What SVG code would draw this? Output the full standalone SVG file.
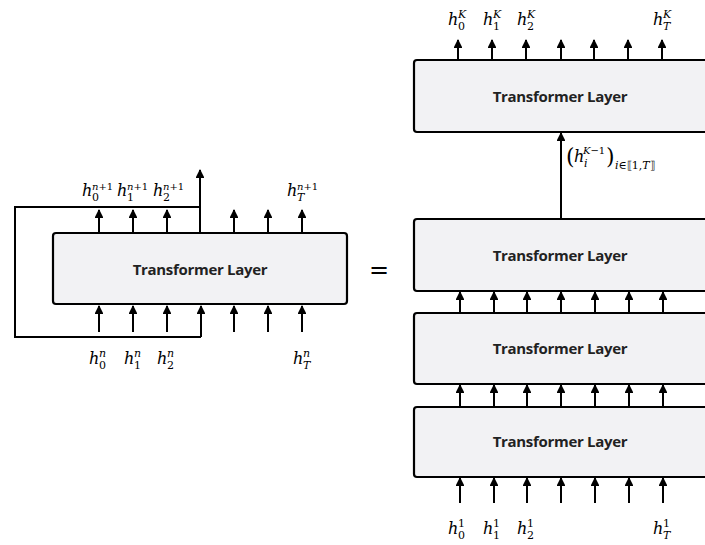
<svg xmlns="http://www.w3.org/2000/svg" width="705" height="545" viewBox="0 0 705 545">
<style>
.box{fill:#f2f2f4;stroke:#000;stroke-width:2.2}
.lbl{font-family:"Open Sans",sans-serif;font-weight:bold;font-size:15px;letter-spacing:-0.3px;text-anchor:middle;fill:#222}
.ln{stroke:#000;stroke-width:2;fill:none}
.m{font-family:"DejaVu Serif",serif;font-style:italic;font-size:16px;fill:#000}
.s{font-family:"DejaVu Serif",serif;font-size:11px;fill:#000}
.si{font-family:"DejaVu Serif",serif;font-style:italic;font-size:11px;fill:#000}
.sp{font-family:"DejaVu Serif",serif;font-style:italic;font-size:10px;fill:#000}
.eq{font-family:"DejaVu Sans",sans-serif;font-size:24px;text-anchor:middle;fill:#000}
</style>
<defs>
<marker id="ah" viewBox="0 0 10 10" refX="9" refY="5" markerWidth="4.4" markerHeight="4.4" orient="auto" markerUnits="strokeWidth">
<path d="M0,0 L10,5 L0,10 z" fill="#000"/>
</marker>
</defs>
<g id="left-layer">
<rect class="box" x="53" y="233" width="294" height="71" rx="3"/>
<text class="lbl" x="200" y="275">Transformer Layer</text>
</g>
<g id="right-layer-K">
<rect class="box" x="414" y="60" width="300" height="72" rx="3"/>
<text class="lbl" x="560" y="102">Transformer Layer</text>
</g>
<g id="right-layer-3">
<rect class="box" x="414" y="219" width="300" height="72" rx="3"/>
<text class="lbl" x="560" y="261">Transformer Layer</text>
</g>
<g id="right-layer-2">
<rect class="box" x="414" y="313" width="300" height="71" rx="3"/>
<text class="lbl" x="560" y="354">Transformer Layer</text>
</g>
<g id="right-layer-1">
<rect class="box" x="414" y="407" width="300" height="70" rx="3"/>
<text class="lbl" x="560" y="447">Transformer Layer</text>
</g>
<g id="connectors">
<path class="ln" marker-end="url(#ah)" d="M99,233V210"/>
<path class="ln" marker-end="url(#ah)" d="M133,233V210"/>
<path class="ln" marker-end="url(#ah)" d="M167,233V210"/>
<path class="ln" marker-end="url(#ah)" d="M200,233V170"/>
<path class="ln" marker-end="url(#ah)" d="M234,233V210"/>
<path class="ln" marker-end="url(#ah)" d="M268,233V210"/>
<path class="ln" marker-end="url(#ah)" d="M302,233V210"/>
<path class="ln" d="M200,207H15V337H201"/>
<path class="ln" marker-end="url(#ah)" d="M201,337V306"/>
<path class="ln" marker-end="url(#ah)" d="M99,332V306"/>
<path class="ln" marker-end="url(#ah)" d="M133,332V306"/>
<path class="ln" marker-end="url(#ah)" d="M167,332V306"/>
<path class="ln" marker-end="url(#ah)" d="M234,332V306"/>
<path class="ln" marker-end="url(#ah)" d="M268,332V306"/>
<path class="ln" marker-end="url(#ah)" d="M302,332V306"/>
<path class="ln" marker-end="url(#ah)" d="M458,60V40"/>
<path class="ln" marker-end="url(#ah)" d="M492,60V40"/>
<path class="ln" marker-end="url(#ah)" d="M526,60V40"/>
<path class="ln" marker-end="url(#ah)" d="M561,60V40"/>
<path class="ln" marker-end="url(#ah)" d="M594,60V40"/>
<path class="ln" marker-end="url(#ah)" d="M628,60V40"/>
<path class="ln" marker-end="url(#ah)" d="M662,60V40"/>
<path class="ln" marker-end="url(#ah)" d="M561,219V133"/>
<path class="ln" marker-end="url(#ah)" d="M460,313V292"/>
<path class="ln" marker-end="url(#ah)" d="M494,313V292"/>
<path class="ln" marker-end="url(#ah)" d="M527,313V292"/>
<path class="ln" marker-end="url(#ah)" d="M561,313V292"/>
<path class="ln" marker-end="url(#ah)" d="M595,313V292"/>
<path class="ln" marker-end="url(#ah)" d="M629,313V292"/>
<path class="ln" marker-end="url(#ah)" d="M663,313V292"/>
<path class="ln" marker-end="url(#ah)" d="M460,407V385"/>
<path class="ln" marker-end="url(#ah)" d="M494,407V385"/>
<path class="ln" marker-end="url(#ah)" d="M527,407V385"/>
<path class="ln" marker-end="url(#ah)" d="M561,407V385"/>
<path class="ln" marker-end="url(#ah)" d="M595,407V385"/>
<path class="ln" marker-end="url(#ah)" d="M629,407V385"/>
<path class="ln" marker-end="url(#ah)" d="M663,407V385"/>
<path class="ln" marker-end="url(#ah)" d="M460,503V478"/>
<path class="ln" marker-end="url(#ah)" d="M494,503V478"/>
<path class="ln" marker-end="url(#ah)" d="M527,503V478"/>
<path class="ln" marker-end="url(#ah)" d="M561,503V478"/>
<path class="ln" marker-end="url(#ah)" d="M595,503V478"/>
<path class="ln" marker-end="url(#ah)" d="M629,503V478"/>
<path class="ln" marker-end="url(#ah)" d="M663,503V478"/>
</g>
<g id="labels">
<text class="eq" x="379" y="278">=</text>
<text class="m" x="82" y="196">h</text><text class="s" x="92" y="201">0</text><text class="sp" x="92" y="190">n<tspan style="font-style:normal">+1</tspan></text>
<text class="m" x="117" y="196">h</text><text class="s" x="127" y="201">1</text><text class="sp" x="127" y="190">n<tspan style="font-style:normal">+1</tspan></text>
<text class="m" x="153" y="196">h</text><text class="s" x="163" y="201">2</text><text class="sp" x="163" y="190">n<tspan style="font-style:normal">+1</tspan></text>
<text class="m" x="287" y="196">h</text><text class="si" x="297" y="201">T</text><text class="sp" x="297" y="190">n<tspan style="font-style:normal">+1</tspan></text>
<text class="m" x="89" y="364">h</text><text class="s" x="99" y="369">0</text><text class="si" x="99" y="357">n</text>
<text class="m" x="124" y="364">h</text><text class="s" x="134" y="369">1</text><text class="si" x="134" y="357">n</text>
<text class="m" x="157" y="364">h</text><text class="s" x="167" y="369">2</text><text class="si" x="167" y="357">n</text>
<text class="m" x="293" y="364">h</text><text class="si" x="303" y="369">T</text><text class="si" x="303" y="357">n</text>
<text class="m" x="448" y="25">h</text><text class="s" x="458" y="30">0</text><text class="si" x="458" y="18">K</text>
<text class="m" x="483" y="25">h</text><text class="s" x="493" y="30">1</text><text class="si" x="493" y="18">K</text>
<text class="m" x="517" y="25">h</text><text class="s" x="527" y="30">2</text><text class="si" x="527" y="18">K</text>
<text class="m" x="653" y="25">h</text><text class="si" x="663" y="30">T</text><text class="si" x="663" y="18">K</text>
<text class="m" x="448" y="534">h</text><text class="s" x="458" y="539">0</text><text class="s" x="458" y="527">1</text>
<text class="m" x="483" y="534">h</text><text class="s" x="493" y="539">1</text><text class="s" x="493" y="527">1</text>
<text class="m" x="517" y="534">h</text><text class="s" x="527" y="539">2</text><text class="s" x="527" y="527">1</text>
<text class="m" x="653" y="534">h</text><text class="si" x="663" y="539">T</text><text class="s" x="663" y="527">1</text>
<text class="s" x="566" y="164" style="font-size:22px">(</text>
<text class="m" x="574" y="162">h</text><text class="si" x="584" y="167">i</text><text class="sp" x="583" y="154">K<tspan style="font-style:normal">−1</tspan></text>
<text class="s" x="606" y="164" style="font-size:22px">)</text>
<text class="si" x="615" y="169">i<tspan style="font-style:normal">∈⟦1,</tspan>T<tspan style="font-style:normal">⟧</tspan></text>
</g>
</svg>
